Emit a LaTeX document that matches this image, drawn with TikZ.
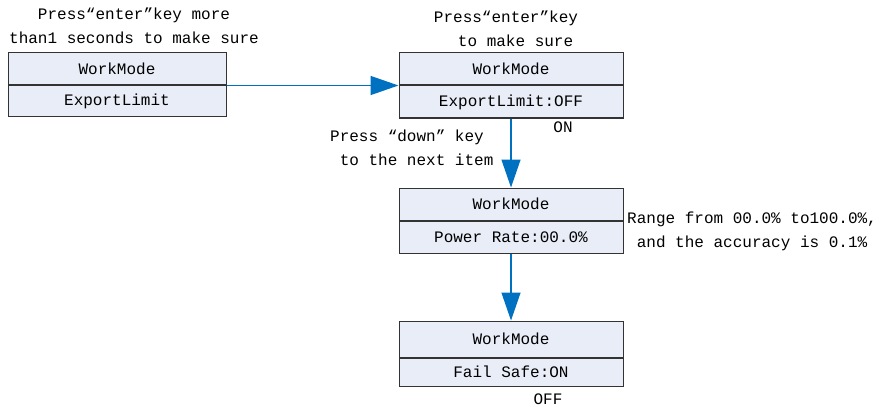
\documentclass[tikz,border=0pt]{standalone}
\usepackage{fontspec}
\setmonofont{Liberation Mono}
\usetikzlibrary{positioning, arrows.meta}

\definecolor{cellfill}{RGB}{232,237,247}
\definecolor{flowblue}{RGB}{0,112,192}

\begin{document}
\begin{tikzpicture}[
    x=1pt, y=-1pt,
    every node/.style={font=\ttfamily\fontsize{16}{24}\selectfont},
    cell/.style={
        draw=black!80,
        line width=1pt,
        fill=cellfill,
        minimum width=224pt,
        minimum height=32pt,
        inner sep=0pt,
        anchor=center
    },
    note/.style={
        align=center,
        inner sep=0pt
    },
    flow/.style={
        draw=flowblue,
        line width=1.4pt,
        -{Triangle[length=28pt, width=19pt]}
    }
]
\useasboundingbox (0,0) rectangle (885,409);

% --- first menu: WorkMode / ExportLimit ---
\node[cell, minimum width=218pt] (wm1) at (117,69) {WorkMode};
\node[cell, minimum width=218pt, minimum height=31pt, below=0pt of wm1] (el1) {ExportLimit};
\node[note] (hint1) at (134,26) {Press“enter”key more\\than1 seconds to make sure};

% --- second menu: ExportLimit setting ---
\node[cell] (wm2) at (511,69) {WorkMode};
\node[cell, below=0pt of wm2] (el2) {ExportLimit:OFF};
\node[note] (hint2) at (506,29) {Press“enter”key\\\ \ to make sure};
\node[note] (on2) at (563,127) {ON};

% --- third menu: Power Rate ---
\node[cell] (wm3) at (511,204) {WorkMode};
\node[cell, below=0pt of wm3] (pr3) {Power Rate:00.0\%};
\node[note] (hint3) at (407,148) {Press “down” key\\\ \ to the next item};
\node[note, align=left, anchor=west] (range3) at (627,231) {Range from  00.0\% to100.0\%,\\\ and the accuracy is 0.1\%};

% --- fourth menu: Fail Safe ---
\node[cell, minimum height=36pt] (wm4) at (511,339) {WorkMode};
\node[cell, minimum height=28pt, below=0pt of wm4] (fs4) {Fail Safe:ON};
\node[note] (off4) at (548,399) {OFF};

% --- connectors ---
\draw[flow] (wm1.south east) -- (wm2.south west);
\draw[flow] (el2.south) -- (wm3.north);
\draw[flow] (pr3.south) -- (wm4.north);

\end{tikzpicture}
\end{document}
